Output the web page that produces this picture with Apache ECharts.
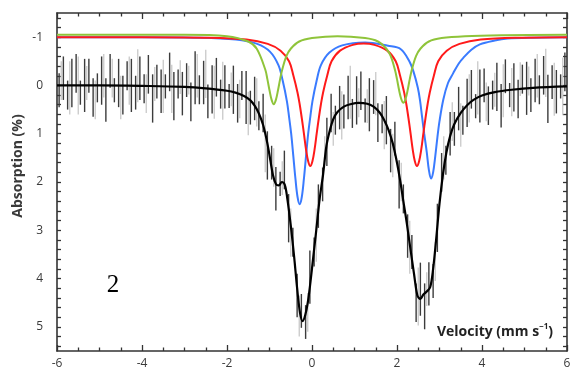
<!DOCTYPE html>
<html><head><meta charset="utf-8">
<script src="https://cdn.jsdelivr.net/npm/echarts@6/dist/echarts.min.js"></script>
<style>html,body{margin:0;padding:0;background:#fff}#c{width:570px;height:372px}</style>
</head><body><div id="c"></div>
<script>
// ---- data ----
const xTickLabels = [-6, -4, -2, 0, 2, 4, 6];
const yTickLabels = [-1, 0, 1, 2, 3, 4, 5];

// fitted total spectrum (black)
const fitV = [-6,-5,-4,-3,-2.5,-2,-1.8,-1.6,-1.45,-1.35,-1.25,-1.15,-1.05,-0.98,-0.92,-0.85,-0.78,-0.71,-0.64,-0.58,-0.5,-0.42,-0.35,-0.28,-0.22,-0.16,-0.1,-0.04,0.03,0.1,0.18,0.26,0.34,0.42,0.5,0.6,0.75,0.9,1.1,1.3,1.45,1.6,1.7,1.8,1.9,2.0,2.08,2.15,2.23,2.31,2.4,2.48,2.55,2.62,2.7,2.78,2.85,2.92,3.0,3.08,3.16,3.25,3.35,3.5,3.65,3.8,4.0,4.3,4.7,5.2,6];
const fitA = [0,0,0.01,0.03,0.06,0.11,0.15,0.22,0.31,0.42,0.58,0.82,1.2,1.55,1.85,2.04,2.07,2.0,2.06,2.35,2.9,3.55,4.2,4.72,4.88,4.76,4.5,4.1,3.55,3.0,2.35,1.85,1.25,0.93,0.7,0.55,0.44,0.39,0.36,0.38,0.44,0.57,0.72,0.92,1.2,1.6,2.0,2.4,2.85,3.35,3.9,4.35,4.42,4.33,4.27,4.18,3.8,3.2,2.45,1.85,1.4,1.05,0.8,0.57,0.41,0.3,0.21,0.14,0.09,0.05,0.02];

// green doublet
const greenV = [-6,-3,-2,-1.5,-1.3,-1.1,-1.05,-1.0,-0.95,-0.9,-0.85,-0.8,-0.75,-0.7,-0.6,-0.5,-0.3,0.0,0.6,1.25,1.55,1.75,1.85,1.95,2.0,2.05,2.1,2.15,2.2,2.25,2.3,2.35,2.45,2.55,2.75,3.05,3.6,4.5,6];
const greenA = [-1.05,-1.05,-1.02,-0.91,-0.76,-0.33,-0.13,0.10,0.30,0.39,0.30,0.10,-0.13,-0.33,-0.61,-0.76,-0.91,-0.98,-1.02,-0.98,-0.91,-0.76,-0.61,-0.33,-0.13,0.10,0.28,0.36,0.28,0.10,-0.13,-0.33,-0.61,-0.76,-0.91,-0.98,-1.02,-1.04,-1.05];

// red doublet
const redV = [-6,-4,-2.54,-1.54,-1.04,-0.74,-0.54,-0.44,-0.34,-0.29,-0.24,-0.19,-0.14,-0.09,-0.04,0.01,0.06,0.11,0.16,0.21,0.26,0.36,0.46,0.66,0.96,1.215,1.47,1.77,1.97,2.07,2.17,2.22,2.27,2.32,2.37,2.42,2.47,2.52,2.57,2.62,2.67,2.72,2.77,2.87,2.97,3.17,3.47,3.97,4.97,6];
const redA = [-1.0,-1.0,-0.99,-0.95,-0.86,-0.72,-0.50,-0.21,0.15,0.39,0.68,1.00,1.33,1.57,1.67,1.57,1.33,1.00,0.68,0.39,0.15,-0.21,-0.50,-0.72,-0.84,-0.87,-0.84,-0.72,-0.50,-0.21,0.15,0.39,0.68,1.00,1.33,1.57,1.67,1.57,1.33,1.00,0.68,0.39,0.15,-0.21,-0.50,-0.72,-0.86,-0.95,-0.99,-1.0];

// blue doublet
const blueV = [-6,-4,-2.79,-1.79,-1.29,-0.99,-0.79,-0.69,-0.59,-0.54,-0.49,-0.44,-0.39,-0.34,-0.29,-0.24,-0.19,-0.14,-0.09,-0.04,0.01,0.11,0.21,0.41,0.71,1.25,1.79,2.09,2.29,2.39,2.49,2.54,2.59,2.64,2.7,2.75,2.8,2.85,2.9,2.95,3.0,3.09,3.2,3.32,3.45,3.56,3.75,3.95,4.3,4.6,5.2,6];
const blueA = [-1.0,-1.0,-0.99,-0.95,-0.86,-0.70,-0.42,-0.10,0.33,0.65,1.00,1.46,1.93,2.31,2.46,2.31,1.93,1.46,1.00,0.65,0.33,-0.10,-0.42,-0.68,-0.83,-0.89,-0.82,-0.75,-0.50,-0.28,0.05,0.30,0.65,1.00,1.38,1.75,1.93,1.80,1.47,1.08,0.74,0.29,-0.05,-0.25,-0.45,-0.57,-0.74,-0.85,-0.93,-0.97,-0.99,-1.0];

// measured spectrum, vertical error bars: [velocity, low, high]
const darkBars = [
[-5.95,-0.25,0.45],[-5.85,-0.60,0.30],[-5.75,-0.10,0.50],[-5.65,-0.55,0.45],[-5.55,-0.65,0.15],[-5.45,-0.10,0.40],[-5.35,-0.55,0.55],[-5.25,-0.55,0.15],[-5.15,-0.15,0.65],[-5.05,-0.25,0.35],
[-4.95,-0.60,0.40],[-4.85,-0.15,0.75],[-4.75,-0.65,0.05],[-4.65,-0.15,0.35],[-4.55,-0.55,0.45],[-4.45,-0.20,0.60],[-4.35,-0.50,0.10],[-4.25,-0.55,0.55],[-4.15,-0.20,0.50],[-4.05,-0.60,0.30],
[-3.95,-0.23,0.37],[-3.85,-0.63,0.17],[-3.75,-0.23,0.77],[-3.65,-0.43,0.27],[-3.55,-0.33,0.57],[-3.45,-0.23,0.27],[-3.35,-0.68,0.12],[-3.25,-0.28,0.72],[-3.15,-0.33,0.27],[-3.05,-0.28,0.62],
[-2.95,-0.46,0.24],[-2.85,-0.06,0.74],[-2.75,-0.71,0.39],[-2.65,-0.21,0.39],[-2.55,-0.51,0.39],[-2.45,-0.02,0.68],[-2.35,-0.42,0.58],[-2.25,-0.57,0.23],[-2.15,-0.12,0.48],[-2.05,-0.42,0.48],
[-1.95,-0.03,0.47],[-1.85,-0.41,0.59],[-1.75,-0.03,0.77],[-1.65,-0.30,0.30],[-1.55,-0.30,0.80],[-1.45,0.11,0.81],[-1.35,-0.18,0.72],[-1.25,0.33,0.93],[-1.15,0.17,0.97],[-1.05,0.95,1.95],
[-0.95,1.25,1.95],[-0.85,1.69,2.59],[-0.75,1.79,2.29],[-0.65,1.35,2.15],[-0.55,2.25,3.25],[-0.45,2.95,3.55],[-0.35,3.90,4.80],[-0.25,4.32,5.02],[-0.15,4.55,5.25],[-0.05,3.42,4.52],
[0.05,3.15,3.75],[0.15,2.05,2.95],[0.25,1.70,2.40],[0.35,0.67,1.67],[0.45,0.17,0.97],[0.55,0.42,1.02],[0.65,0.01,0.91],[0.75,0.19,0.89],[0.85,-0.20,0.70],[0.95,0.28,0.88],
[1.05,-0.19,0.81],[1.15,-0.29,0.51],[1.25,0.27,0.77],[1.35,-0.15,0.95],[1.45,-0.11,0.59],[1.55,0.37,1.17],[1.65,0.39,0.99],[1.75,0.22,1.22],[1.85,0.90,1.80],[1.95,0.75,1.45],
[2.05,1.55,2.55],[2.15,2.05,2.65],[2.25,2.67,3.57],[2.35,3.10,3.80],[2.45,4.10,4.90],[2.55,3.67,4.77],[2.65,4.10,5.05],[2.75,3.66,4.56],[2.85,3.70,4.40],[2.95,2.45,3.45],
[3.05,1.40,2.20],[3.15,1.25,1.85],[3.25,0.55,1.45],[3.35,0.55,1.25],[3.45,0.03,0.93],[3.55,0.42,1.02],[3.65,-0.14,0.86],[3.75,-0.32,0.48],[3.85,0.18,0.68],[3.95,-0.33,0.77],
[4.05,-0.35,0.35],[4.15,0.02,0.82],[4.25,-0.10,0.50],[4.35,-0.47,0.53],[4.45,-0.03,0.87],[4.55,-0.54,0.16],[4.65,-0.05,0.45],[4.75,-0.46,0.54],[4.85,-0.12,0.68],[4.95,-0.43,0.17],
[5.05,-0.49,0.61],[5.15,-0.15,0.55],[5.25,-0.55,0.35],[5.35,-0.21,0.39],[5.45,-0.61,0.19],[5.55,-0.22,0.78],[5.65,-0.42,0.28],[5.75,-0.32,0.58],[5.85,-0.23,0.27],[5.95,-0.68,0.12]
];
const lightBars = [
[-5.9,-0.50,0.30],[-5.7,-0.50,0.60],[-5.5,-0.60,0.60],[-5.3,-0.40,0.30],[-5.1,-0.10,0.70],[-4.9,-0.65,0.25],[-4.7,-0.55,0.25],[-4.5,-0.20,0.70],[-4.3,-0.60,0.40],[-4.1,-0.75,0.35],
[-3.9,-0.23,0.57],[-3.7,-0.38,0.32],[-3.5,-0.53,0.57],[-3.3,-0.43,0.57],[-3.1,-0.52,0.18],[-2.9,-0.41,0.19],[-2.7,-0.65,0.25],[-2.5,-0.74,0.26],[-2.3,-0.41,0.69],[-2.1,-0.49,0.71],
[-1.9,-0.27,0.43],[-1.7,-0.12,0.68],[-1.5,0.13,1.03],[-1.3,-0.15,0.85],[-1.1,0.60,1.80],[-0.9,1.30,2.10],[-0.7,1.57,2.27],[-0.5,2.55,3.55],[-0.3,4.35,5.20],[-0.1,4.30,5.10],
[0.1,2.55,3.65],[0.3,1.05,1.65],[0.5,0.55,1.25],[0.7,0.12,1.12],[0.9,-0.41,0.69],[1.1,0.06,0.66],[1.3,0.08,0.78],[1.5,-0.28,0.62],[1.7,0.32,1.32],[1.9,1.00,1.90],
[2.1,1.60,2.40],[2.3,2.80,3.90],[2.5,3.77,4.97],[2.7,3.87,4.57],[2.9,3.25,4.05],[3.1,1.05,1.95],[3.3,0.35,1.15],[3.5,0.37,1.27],[3.7,-0.23,0.77],[3.9,-0.50,0.60],
[4.1,-0.06,0.74],[4.3,-0.26,0.44],[4.5,-0.44,0.66],[4.7,-0.36,0.64],[4.9,-0.48,0.22],[5.1,-0.39,0.21],[5.3,-0.65,0.25],[5.5,-0.76,0.24],[5.7,-0.47,0.63],[5.9,-0.58,0.62]
];

// ---- chart ----
const pair = (xs, ys) => xs.map((v, i) => [v, ys[i]]);
const yMinorTicks = [];
for (let k = -7; k <= 27; k++) yMinorTicks.push(Math.round(k * 2) / 10);

const axisColor = '#333';
const labelFont = { color: '#3a3a3a', fontSize: 12, fontFamily: '"Open Sans", sans-serif' };

function xAx(pos, showLabel) {
  return {
    type: 'value', min: -6, max: 6, interval: 2, position: pos,
    axisLine: { show: true, onZero: false, lineStyle: { color: axisColor, width: 1.6 } },
    axisTick: { show: true, inside: true, length: 6, lineStyle: { color: axisColor, width: 1.3 } },
    minorTick: { show: true, splitNumber: 4, length: 3.5, lineStyle: { color: axisColor, width: 1.3 } },
    splitLine: { show: false }, minorSplitLine: { show: false },
    axisLabel: Object.assign({ show: showLabel, margin: 7, customValues: xTickLabels }, labelFont)
  };
}
function yAx(pos, showLabel) {
  return {
    type: 'value', inverse: true, min: -1.5, max: 5.5, position: pos,
    axisLine: { show: true, onZero: false, lineStyle: { color: axisColor, width: 1.6 } },
    axisTick: { show: true, inside: true, length: 4, customValues: yMinorTicks, lineStyle: { color: axisColor, width: 1.3 } },
    splitLine: { show: false },
    axisLabel: Object.assign({ show: showLabel, margin: 14, customValues: yTickLabels }, labelFont)
  };
}
function barRender(color, w) {
  return function (params, api) {
    const a = api.coord([api.value(0), api.value(1)]);
    const b = api.coord([api.value(0), api.value(2)]);
    return { type: 'line', shape: { x1: a[0], y1: a[1], x2: b[0], y2: b[1] }, style: { stroke: color, lineWidth: w } };
  };
}
function lineSeries(xs, ys, color, w, z) {
  return { type: 'line', data: pair(xs, ys), showSymbol: false, symbol: 'none', smooth: 0.35,
    lineStyle: { color: color, width: w }, z: z, animation: false, xAxisIndex: 0, yAxisIndex: 0 };
}

const chart = echarts.init(document.getElementById('c'), null, { renderer: 'canvas' });
chart.setOption({
  backgroundColor: '#fff',
  animation: false,
  grid: { left: 57, right: 3, top: 13, bottom: 21, containLabel: false, outerBoundsMode: 'none' },
  xAxis: [xAx('bottom', true), xAx('top', false)],
  yAxis: [yAx('left', true), yAx('right', false)],
  series: [
    { type: 'custom', renderItem: barRender('#c9c9c9', 1.3), data: lightBars, encode: { x: 0, y: [1, 2] }, z: 1, clip: true },
    { type: 'custom', renderItem: barRender('#3c3c3c', 1.4), data: darkBars, encode: { x: 0, y: [1, 2] }, z: 1, clip: true },
    lineSeries(fitV, fitA, '#000000', 2.2, 2),
    lineSeries(blueV, blueA, '#3a7bff', 2, 3),
    lineSeries(redV, redA, '#ff1a1a', 2, 4),
    lineSeries(greenV, greenA, '#8fc43a', 2, 5)
  ],
  graphic: [
    { type: 'text', x: 18, y: 166, rotation: Math.PI / 2, z: 10,
      style: { text: 'Absorption (%)', font: 'bold 14px "Open Sans", sans-serif', fill: '#3a3a3a', align: 'center', verticalAlign: 'middle' } },
    { type: 'text', x: 495, y: 332, z: 10,
      style: { text: '{a|Velocity (mm s}{b|−1}{a|)}', align: 'center', verticalAlign: 'middle',
        rich: {
          a: { font: 'bold 14px "Open Sans", sans-serif', fill: '#222', lineHeight: 18 },
          b: { font: 'bold 8px "Open Sans", sans-serif', fill: '#222', lineHeight: 18, verticalAlign: 'top' }
        } } },
    { type: 'text', x: 113, y: 285, z: 10,
      style: { text: '2', font: '25px "Liberation Serif", "DejaVu Serif", serif', fill: '#000', align: 'center', verticalAlign: 'middle' } }
  ]
});
</script>
</body></html>
